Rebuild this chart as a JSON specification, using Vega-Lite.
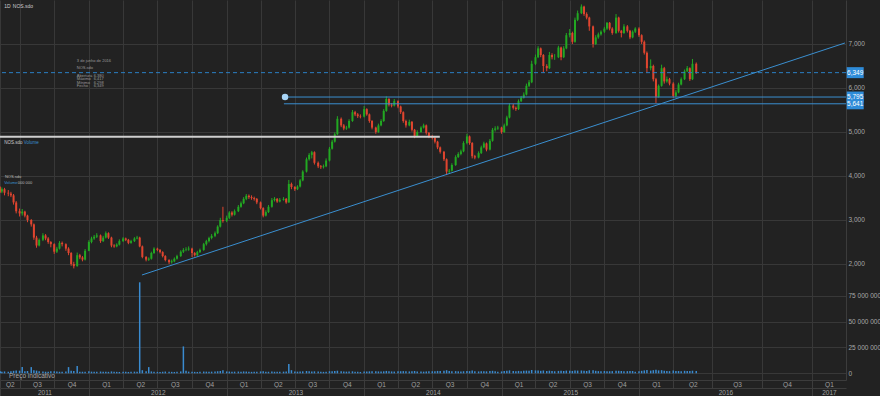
{
"$schema":"https://vega.github.io/schema/vega-lite/v6.json",
"width":846,"height":380,
"autosize":{"type":"none"},
"padding":{"left":0,"top":0,"right":34,"bottom":16},
"background":"#222222",
"config":{"view":{"stroke":null},"text":{"font":"Liberation Sans"},"axis":{"labelFont":"Liberation Sans"}},
"datasets":{
"ohlc":[
{"d":"2011-05-11","o":3700,"h":3760,"l":3620,"c":3650,"v":2},
{"d":"2011-05-15","o":3650,"h":3740,"l":3610,"c":3700,"v":1.5},
{"d":"2011-05-22","o":3700,"h":3730,"l":3560,"c":3620,"v":1.8},
{"d":"2011-06-01","o":3620,"h":3680,"l":3540,"c":3600,"v":1.6},
{"d":"2011-06-08","o":3600,"h":3640,"l":3520,"c":3560,"v":2},
{"d":"2011-06-15","o":3560,"h":3590,"l":3350,"c":3400,"v":2.4},
{"d":"2011-06-22","o":3400,"h":3430,"l":3150,"c":3200,"v":2.8},
{"d":"2011-07-01","o":3200,"h":3260,"l":3080,"c":3150,"v":2.5},
{"d":"2011-07-08","o":3150,"h":3250,"l":3100,"c":3190,"v":6.1},
{"d":"2011-07-15","o":3190,"h":3210,"l":3060,"c":3100,"v":2},
{"d":"2011-07-22","o":3100,"h":3120,"l":2950,"c":3000,"v":2.2},
{"d":"2011-08-01","o":3000,"h":3020,"l":2850,"c":2900,"v":6},
{"d":"2011-08-08","o":2900,"h":2920,"l":2550,"c":2600,"v":3},
{"d":"2011-08-15","o":2600,"h":2640,"l":2370,"c":2420,"v":2.6},
{"d":"2011-08-22","o":2420,"h":2580,"l":2400,"c":2550,"v":2},
{"d":"2011-09-01","o":2550,"h":2700,"l":2520,"c":2650,"v":1.8},
{"d":"2011-09-08","o":2650,"h":2680,"l":2540,"c":2580,"v":1.5},
{"d":"2011-09-15","o":2580,"h":2610,"l":2460,"c":2500,"v":1.6},
{"d":"2011-09-22","o":2500,"h":2520,"l":2380,"c":2450,"v":1.9},
{"d":"2011-10-01","o":2450,"h":2470,"l":2230,"c":2280,"v":2.1},
{"d":"2011-10-08","o":2280,"h":2390,"l":2250,"c":2350,"v":1.7},
{"d":"2011-10-15","o":2350,"h":2520,"l":2330,"c":2480,"v":1.5},
{"d":"2011-10-22","o":2480,"h":2510,"l":2400,"c":2450,"v":1.4},
{"d":"2011-11-01","o":2450,"h":2470,"l":2300,"c":2350,"v":1.8},
{"d":"2011-11-08","o":2350,"h":2380,"l":2200,"c":2250,"v":6},
{"d":"2011-11-15","o":2250,"h":2270,"l":1960,"c":2000,"v":2.5},
{"d":"2011-11-22","o":2000,"h":2050,"l":1900,"c":1950,"v":2.2},
{"d":"2011-12-01","o":1950,"h":2260,"l":1940,"c":2200,"v":7},
{"d":"2011-12-08","o":2200,"h":2230,"l":2110,"c":2150,"v":1.6},
{"d":"2011-12-15","o":2150,"h":2180,"l":2060,"c":2100,"v":1.5},
{"d":"2011-12-22","o":2100,"h":2340,"l":2080,"c":2300,"v":1.4},
{"d":"2012-01-01","o":2300,"h":2540,"l":2290,"c":2500,"v":1.9},
{"d":"2012-01-08","o":2500,"h":2620,"l":2470,"c":2580,"v":1.6},
{"d":"2012-01-15","o":2580,"h":2660,"l":2550,"c":2620,"v":1.5},
{"d":"2012-01-22","o":2620,"h":2700,"l":2590,"c":2650,"v":1.4},
{"d":"2012-02-01","o":2650,"h":2670,"l":2480,"c":2520,"v":1.7},
{"d":"2012-02-08","o":2520,"h":2640,"l":2500,"c":2600,"v":1.5},
{"d":"2012-02-15","o":2600,"h":2740,"l":2580,"c":2700,"v":1.6},
{"d":"2012-02-22","o":2700,"h":2720,"l":2570,"c":2600,"v":1.4},
{"d":"2012-03-01","o":2600,"h":2620,"l":2380,"c":2420,"v":1.8},
{"d":"2012-03-08","o":2420,"h":2450,"l":2370,"c":2400,"v":1.5},
{"d":"2012-03-15","o":2400,"h":2470,"l":2380,"c":2440,"v":1.4},
{"d":"2012-03-22","o":2440,"h":2560,"l":2420,"c":2520,"v":1.3},
{"d":"2012-04-01","o":2520,"h":2610,"l":2500,"c":2580,"v":1.5},
{"d":"2012-04-08","o":2580,"h":2600,"l":2520,"c":2550,"v":1.4},
{"d":"2012-04-15","o":2550,"h":2570,"l":2450,"c":2480,"v":1.3},
{"d":"2012-04-22","o":2480,"h":2550,"l":2460,"c":2520,"v":1.5},
{"d":"2012-05-01","o":2520,"h":2610,"l":2500,"c":2580,"v":1.6},
{"d":"2012-05-08","o":2580,"h":2640,"l":2560,"c":2600,"v":1.4},
{"d":"2012-05-15","o":2600,"h":2620,"l":2380,"c":2400,"v":88},
{"d":"2012-05-22","o":2400,"h":2420,"l":2130,"c":2160,"v":3},
{"d":"2012-06-01","o":2160,"h":2180,"l":2060,"c":2100,"v":2},
{"d":"2012-06-08","o":2100,"h":2150,"l":2070,"c":2120,"v":6},
{"d":"2012-06-15","o":2120,"h":2280,"l":2100,"c":2250,"v":1.8},
{"d":"2012-06-22","o":2250,"h":2380,"l":2230,"c":2350,"v":1.6},
{"d":"2012-07-01","o":2350,"h":2370,"l":2290,"c":2320,"v":1.4},
{"d":"2012-07-08","o":2320,"h":2340,"l":2240,"c":2270,"v":1.3},
{"d":"2012-07-15","o":2270,"h":2290,"l":2150,"c":2180,"v":1.5},
{"d":"2012-07-22","o":2180,"h":2200,"l":2060,"c":2090,"v":1.7},
{"d":"2012-08-01","o":2090,"h":2110,"l":2000,"c":2040,"v":1.6},
{"d":"2012-08-08","o":2040,"h":2100,"l":2010,"c":2060,"v":1.4},
{"d":"2012-08-15","o":2060,"h":2150,"l":2040,"c":2120,"v":1.3},
{"d":"2012-08-22","o":2120,"h":2210,"l":2100,"c":2180,"v":1.5},
{"d":"2012-09-01","o":2180,"h":2310,"l":2160,"c":2280,"v":1.8},
{"d":"2012-09-08","o":2280,"h":2360,"l":2250,"c":2320,"v":26},
{"d":"2012-09-15","o":2320,"h":2380,"l":2290,"c":2330,"v":2.5},
{"d":"2012-09-22","o":2330,"h":2400,"l":2300,"c":2350,"v":1.6},
{"d":"2012-10-01","o":2350,"h":2370,"l":2160,"c":2250,"v":1.5},
{"d":"2012-10-08","o":2250,"h":2270,"l":2170,"c":2200,"v":1.4},
{"d":"2012-10-15","o":2200,"h":2300,"l":2180,"c":2270,"v":1.3},
{"d":"2012-10-22","o":2270,"h":2350,"l":2250,"c":2320,"v":1.5},
{"d":"2012-11-01","o":2320,"h":2480,"l":2300,"c":2450,"v":1.7},
{"d":"2012-11-08","o":2450,"h":2550,"l":2420,"c":2520,"v":1.6},
{"d":"2012-11-15","o":2520,"h":2620,"l":2490,"c":2590,"v":1.5},
{"d":"2012-11-22","o":2590,"h":2680,"l":2560,"c":2640,"v":1.6},
{"d":"2012-12-01","o":2640,"h":2740,"l":2610,"c":2700,"v":1.8},
{"d":"2012-12-08","o":2700,"h":2880,"l":2680,"c":2850,"v":2},
{"d":"2012-12-15","o":2850,"h":3050,"l":2830,"c":3000,"v":2.2},
{"d":"2012-12-22","o":3000,"h":3300,"l":2940,"c":2980,"v":3},
{"d":"2013-01-01","o":2980,"h":3100,"l":2950,"c":3050,"v":1.8},
{"d":"2013-01-08","o":3050,"h":3200,"l":3020,"c":3170,"v":1.7},
{"d":"2013-01-15","o":3170,"h":3200,"l":3080,"c":3120,"v":1.5},
{"d":"2013-01-22","o":3120,"h":3240,"l":3100,"c":3200,"v":1.6},
{"d":"2013-02-01","o":3200,"h":3340,"l":3180,"c":3300,"v":1.7},
{"d":"2013-02-08","o":3300,"h":3420,"l":3280,"c":3380,"v":1.6},
{"d":"2013-02-15","o":3380,"h":3520,"l":3360,"c":3480,"v":1.8},
{"d":"2013-02-22","o":3480,"h":3590,"l":3450,"c":3550,"v":1.7},
{"d":"2013-03-01","o":3550,"h":3580,"l":3480,"c":3520,"v":1.5},
{"d":"2013-03-08","o":3520,"h":3560,"l":3460,"c":3500,"v":1.4},
{"d":"2013-03-15","o":3500,"h":3530,"l":3440,"c":3480,"v":1.4},
{"d":"2013-03-22","o":3480,"h":3500,"l":3360,"c":3400,"v":1.6},
{"d":"2013-04-01","o":3400,"h":3420,"l":3240,"c":3270,"v":1.8},
{"d":"2013-04-08","o":3270,"h":3290,"l":3060,"c":3100,"v":2},
{"d":"2013-04-15","o":3100,"h":3220,"l":3080,"c":3180,"v":1.6},
{"d":"2013-04-22","o":3180,"h":3340,"l":3160,"c":3300,"v":1.5},
{"d":"2013-05-01","o":3300,"h":3500,"l":3280,"c":3450,"v":1.7},
{"d":"2013-05-08","o":3450,"h":3520,"l":3420,"c":3480,"v":1.5},
{"d":"2013-05-15","o":3480,"h":3500,"l":3390,"c":3420,"v":1.4},
{"d":"2013-05-22","o":3420,"h":3500,"l":3400,"c":3460,"v":1.5},
{"d":"2013-06-01","o":3460,"h":3520,"l":3440,"c":3480,"v":1.6},
{"d":"2013-06-08","o":3480,"h":3500,"l":3370,"c":3400,"v":1.7},
{"d":"2013-06-15","o":3400,"h":3910,"l":3390,"c":3820,"v":9},
{"d":"2013-06-22","o":3820,"h":3850,"l":3700,"c":3750,"v":3},
{"d":"2013-07-01","o":3750,"h":3770,"l":3660,"c":3700,"v":1.8},
{"d":"2013-07-08","o":3700,"h":3790,"l":3680,"c":3760,"v":1.6},
{"d":"2013-07-15","o":3760,"h":3930,"l":3740,"c":3900,"v":1.7},
{"d":"2013-07-22","o":3900,"h":4130,"l":3880,"c":4100,"v":1.9},
{"d":"2013-08-01","o":4100,"h":4420,"l":4080,"c":4380,"v":2.2},
{"d":"2013-08-08","o":4380,"h":4520,"l":4350,"c":4480,"v":2},
{"d":"2013-08-15","o":4480,"h":4570,"l":4400,"c":4540,"v":1.8},
{"d":"2013-08-22","o":4540,"h":4560,"l":4260,"c":4300,"v":1.9},
{"d":"2013-09-01","o":4300,"h":4330,"l":4180,"c":4220,"v":1.7},
{"d":"2013-09-08","o":4220,"h":4250,"l":4160,"c":4200,"v":1.5},
{"d":"2013-09-15","o":4200,"h":4260,"l":4170,"c":4220,"v":1.4},
{"d":"2013-09-22","o":4220,"h":4400,"l":4200,"c":4350,"v":1.6},
{"d":"2013-10-01","o":4350,"h":4660,"l":4330,"c":4620,"v":2},
{"d":"2013-10-08","o":4620,"h":4820,"l":4600,"c":4780,"v":2.1},
{"d":"2013-10-15","o":4780,"h":4990,"l":4760,"c":4950,"v":2.2},
{"d":"2013-10-22","o":4950,"h":5360,"l":4930,"c":5300,"v":2.5},
{"d":"2013-11-01","o":5300,"h":5330,"l":5110,"c":5150,"v":2},
{"d":"2013-11-08","o":5150,"h":5180,"l":5040,"c":5080,"v":1.8},
{"d":"2013-11-15","o":5080,"h":5140,"l":5050,"c":5100,"v":1.6},
{"d":"2013-11-22","o":5100,"h":5290,"l":5080,"c":5250,"v":1.7},
{"d":"2013-12-01","o":5250,"h":5500,"l":5230,"c":5450,"v":1.9},
{"d":"2013-12-08","o":5450,"h":5480,"l":5360,"c":5400,"v":1.6},
{"d":"2013-12-15","o":5400,"h":5430,"l":5320,"c":5360,"v":1.5},
{"d":"2013-12-22","o":5360,"h":5400,"l":5310,"c":5350,"v":1.3},
{"d":"2014-01-01","o":5350,"h":5590,"l":5330,"c":5520,"v":1.8},
{"d":"2014-01-08","o":5520,"h":5540,"l":5370,"c":5400,"v":1.7},
{"d":"2014-01-15","o":5400,"h":5420,"l":5210,"c":5250,"v":1.9},
{"d":"2014-01-22","o":5250,"h":5270,"l":5060,"c":5100,"v":2},
{"d":"2014-02-01","o":5100,"h":5120,"l":4960,"c":5000,"v":2.1},
{"d":"2014-02-08","o":5000,"h":5190,"l":4980,"c":5150,"v":1.8},
{"d":"2014-02-15","o":5150,"h":5290,"l":5130,"c":5250,"v":1.7},
{"d":"2014-02-22","o":5250,"h":5520,"l":5230,"c":5480,"v":1.9},
{"d":"2014-03-01","o":5480,"h":5810,"l":5460,"c":5750,"v":2.3},
{"d":"2014-03-08","o":5750,"h":5770,"l":5580,"c":5620,"v":2},
{"d":"2014-03-15","o":5620,"h":5660,"l":5560,"c":5600,"v":1.8},
{"d":"2014-03-22","o":5600,"h":5750,"l":5580,"c":5700,"v":1.7},
{"d":"2014-04-01","o":5700,"h":5720,"l":5540,"c":5580,"v":1.9},
{"d":"2014-04-08","o":5580,"h":5600,"l":5410,"c":5450,"v":2},
{"d":"2014-04-15","o":5450,"h":5470,"l":5210,"c":5250,"v":2.1},
{"d":"2014-04-22","o":5250,"h":5280,"l":5100,"c":5150,"v":2},
{"d":"2014-05-01","o":5150,"h":5280,"l":5130,"c":5230,"v":1.8},
{"d":"2014-05-08","o":5230,"h":5250,"l":5010,"c":5050,"v":1.9},
{"d":"2014-05-15","o":5050,"h":5070,"l":4860,"c":4900,"v":2.2},
{"d":"2014-05-22","o":4900,"h":5040,"l":4880,"c":5000,"v":1.8},
{"d":"2014-06-01","o":5000,"h":5130,"l":4980,"c":5100,"v":1.7},
{"d":"2014-06-08","o":5100,"h":5190,"l":5080,"c":5150,"v":1.6},
{"d":"2014-06-15","o":5150,"h":5170,"l":4940,"c":4980,"v":1.8},
{"d":"2014-06-22","o":4980,"h":5000,"l":4860,"c":4900,"v":1.9},
{"d":"2014-07-01","o":4900,"h":4930,"l":4830,"c":4870,"v":2},
{"d":"2014-07-08","o":4870,"h":4890,"l":4740,"c":4780,"v":2.1},
{"d":"2014-07-15","o":4780,"h":4800,"l":4610,"c":4650,"v":2.3},
{"d":"2014-07-22","o":4650,"h":4670,"l":4510,"c":4550,"v":2.2},
{"d":"2014-08-01","o":4550,"h":4570,"l":4340,"c":4380,"v":2.4},
{"d":"2014-08-08","o":4380,"h":4400,"l":4020,"c":4100,"v":3},
{"d":"2014-08-15","o":4100,"h":4160,"l":4060,"c":4120,"v":2.2},
{"d":"2014-08-22","o":4120,"h":4290,"l":4100,"c":4250,"v":2},
{"d":"2014-09-01","o":4250,"h":4470,"l":4230,"c":4430,"v":2.1},
{"d":"2014-09-08","o":4430,"h":4540,"l":4410,"c":4500,"v":1.9},
{"d":"2014-09-15","o":4500,"h":4600,"l":4470,"c":4560,"v":1.8},
{"d":"2014-09-22","o":4560,"h":4790,"l":4540,"c":4750,"v":2},
{"d":"2014-10-01","o":4750,"h":4960,"l":4720,"c":4900,"v":2.2},
{"d":"2014-10-08","o":4900,"h":4920,"l":4710,"c":4750,"v":2.1},
{"d":"2014-10-15","o":4750,"h":4770,"l":4400,"c":4450,"v":2.6},
{"d":"2014-10-22","o":4450,"h":4480,"l":4380,"c":4420,"v":2},
{"d":"2014-11-01","o":4420,"h":4560,"l":4400,"c":4520,"v":1.8},
{"d":"2014-11-08","o":4520,"h":4690,"l":4500,"c":4650,"v":1.9},
{"d":"2014-11-15","o":4650,"h":4780,"l":4630,"c":4740,"v":2},
{"d":"2014-11-22","o":4740,"h":4760,"l":4560,"c":4600,"v":1.9},
{"d":"2014-12-01","o":4600,"h":4840,"l":4580,"c":4800,"v":2.2},
{"d":"2014-12-08","o":4800,"h":5090,"l":4780,"c":5050,"v":2.4},
{"d":"2014-12-15","o":5050,"h":5130,"l":5010,"c":5080,"v":2.1},
{"d":"2014-12-22","o":5080,"h":5140,"l":5050,"c":5100,"v":1.5},
{"d":"2015-01-01","o":5100,"h":5120,"l":4960,"c":5000,"v":1.8},
{"d":"2015-01-08","o":5000,"h":5190,"l":4980,"c":5150,"v":2.2},
{"d":"2015-01-15","o":5150,"h":5370,"l":5130,"c":5330,"v":2.5},
{"d":"2015-01-22","o":5330,"h":5650,"l":5310,"c":5600,"v":2.8},
{"d":"2015-02-01","o":5600,"h":5640,"l":5510,"c":5550,"v":2.2},
{"d":"2015-02-08","o":5550,"h":5580,"l":5480,"c":5520,"v":2},
{"d":"2015-02-15","o":5520,"h":5740,"l":5500,"c":5700,"v":2.3},
{"d":"2015-02-22","o":5700,"h":5820,"l":5680,"c":5780,"v":2.1},
{"d":"2015-03-01","o":5780,"h":5900,"l":5760,"c":5850,"v":2.4},
{"d":"2015-03-08","o":5850,"h":6100,"l":5830,"c":6050,"v":2.6},
{"d":"2015-03-15","o":6050,"h":6180,"l":6020,"c":6130,"v":2.5},
{"d":"2015-03-22","o":6130,"h":6620,"l":6110,"c":6550,"v":3.2},
{"d":"2015-04-01","o":6550,"h":6760,"l":6520,"c":6700,"v":2.8},
{"d":"2015-04-08","o":6700,"h":6950,"l":6680,"c":6900,"v":2.6},
{"d":"2015-04-15","o":6900,"h":6920,"l":6700,"c":6750,"v":2.4},
{"d":"2015-04-22","o":6750,"h":6770,"l":6350,"c":6500,"v":2.7},
{"d":"2015-05-01","o":6500,"h":6540,"l":6380,"c":6450,"v":2.3},
{"d":"2015-05-08","o":6450,"h":6820,"l":6430,"c":6750,"v":2.5},
{"d":"2015-05-15","o":6750,"h":6790,"l":6650,"c":6700,"v":2.2},
{"d":"2015-05-22","o":6700,"h":6770,"l":6640,"c":6700,"v":2},
{"d":"2015-06-01","o":6700,"h":6960,"l":6680,"c":6920,"v":2.3},
{"d":"2015-06-08","o":6920,"h":6940,"l":6630,"c":6700,"v":2.4},
{"d":"2015-06-15","o":6700,"h":6950,"l":6680,"c":6900,"v":2.2},
{"d":"2015-06-22","o":6900,"h":7250,"l":6880,"c":7200,"v":2.6},
{"d":"2015-07-01","o":7200,"h":7340,"l":7150,"c":7250,"v":2.5},
{"d":"2015-07-08","o":7250,"h":7280,"l":7000,"c":7050,"v":2.3},
{"d":"2015-07-15","o":7050,"h":7600,"l":7030,"c":7550,"v":2.8},
{"d":"2015-07-22","o":7550,"h":7760,"l":7520,"c":7700,"v":2.6},
{"d":"2015-08-01","o":7700,"h":7900,"l":7680,"c":7850,"v":2.7},
{"d":"2015-08-08","o":7850,"h":7870,"l":7640,"c":7680,"v":2.4},
{"d":"2015-08-15","o":7680,"h":7720,"l":7560,"c":7600,"v":2.2},
{"d":"2015-08-22","o":7600,"h":7620,"l":7300,"c":7400,"v":2.9},
{"d":"2015-09-01","o":7400,"h":7420,"l":6920,"c":7000,"v":3},
{"d":"2015-09-08","o":7000,"h":7200,"l":6980,"c":7150,"v":2.4},
{"d":"2015-09-15","o":7150,"h":7260,"l":7120,"c":7220,"v":2.1},
{"d":"2015-09-22","o":7220,"h":7310,"l":7190,"c":7280,"v":2},
{"d":"2015-10-01","o":7280,"h":7390,"l":7250,"c":7350,"v":2.2},
{"d":"2015-10-08","o":7350,"h":7500,"l":7320,"c":7480,"v":2.1},
{"d":"2015-10-15","o":7480,"h":7500,"l":7310,"c":7350,"v":2},
{"d":"2015-10-22","o":7350,"h":7380,"l":7210,"c":7250,"v":2.1},
{"d":"2015-11-01","o":7250,"h":7680,"l":7230,"c":7600,"v":2.5},
{"d":"2015-11-08","o":7600,"h":7620,"l":7260,"c":7300,"v":2.4},
{"d":"2015-11-15","o":7300,"h":7320,"l":7150,"c":7250,"v":2.2},
{"d":"2015-11-22","o":7250,"h":7450,"l":7230,"c":7400,"v":2},
{"d":"2015-12-01","o":7400,"h":7430,"l":7260,"c":7300,"v":2.1},
{"d":"2015-12-08","o":7300,"h":7320,"l":7110,"c":7150,"v":2.3},
{"d":"2015-12-15","o":7150,"h":7310,"l":7130,"c":7280,"v":2.2},
{"d":"2015-12-22","o":7280,"h":7380,"l":7250,"c":7350,"v":1.6},
{"d":"2016-01-01","o":7350,"h":7380,"l":7160,"c":7200,"v":2},
{"d":"2016-01-08","o":7200,"h":7220,"l":7000,"c":7050,"v":2.4},
{"d":"2016-01-15","o":7050,"h":7080,"l":6760,"c":6800,"v":2.8},
{"d":"2016-01-22","o":6800,"h":6830,"l":6350,"c":6450,"v":3.2},
{"d":"2016-02-01","o":6450,"h":6650,"l":6400,"c":6500,"v":2.6},
{"d":"2016-02-08","o":6500,"h":6530,"l":6150,"c":6200,"v":3},
{"d":"2016-02-15","o":6200,"h":6230,"l":5660,"c":5800,"v":3.5},
{"d":"2016-02-22","o":5800,"h":6080,"l":5780,"c":6050,"v":2.8},
{"d":"2016-03-01","o":6050,"h":6530,"l":6030,"c":6450,"v":3},
{"d":"2016-03-08","o":6450,"h":6480,"l":6100,"c":6150,"v":2.5},
{"d":"2016-03-15","o":6150,"h":6260,"l":6120,"c":6200,"v":2.2},
{"d":"2016-03-22","o":6200,"h":6230,"l":6060,"c":6100,"v":2.1},
{"d":"2016-04-01","o":6100,"h":6130,"l":5780,"c":5820,"v":2.7},
{"d":"2016-04-08","o":5820,"h":5950,"l":5790,"c":5900,"v":2.3},
{"d":"2016-04-15","o":5900,"h":6120,"l":5880,"c":6080,"v":2.2},
{"d":"2016-04-22","o":6080,"h":6240,"l":6060,"c":6200,"v":2.1},
{"d":"2016-05-01","o":6200,"h":6420,"l":6180,"c":6380,"v":2.4},
{"d":"2016-05-08","o":6380,"h":6500,"l":6360,"c":6450,"v":2.2},
{"d":"2016-05-15","o":6450,"h":6470,"l":6160,"c":6200,"v":2.3},
{"d":"2016-05-22","o":6200,"h":6660,"l":6180,"c":6550,"v":2.5},
{"d":"2016-06-01","o":6550,"h":6580,"l":6320,"c":6349,"v":2.2}
],
"one":[{}],
"levels":[{"p":5795},{"p":5641}],
"tags":[{"p":6349,"t":"6,349"},{"p":5795,"t":"5,795"},{"p":5641,"t":"5,641"}]
},
"resolve":{"scale":{"y":"independent"},"axis":{"x":"independent","y":"independent"}},
"layer":[
{
"data":{"name":"ohlc"},
"mark":{"type":"rule","strokeWidth":1},
"encoding":{
"x":{"field":"d","type":"temporal",
"scale":{"type":"utc","domainRaw":{"expr":"[utc(2011,4,10), utc(2016,5,3), utc(2017,2,5)]"},"range":[0,697,846],"nice":false,"padding":0},
"axis":{"orient":"bottom","title":null,
"values":[{"year":2011,"month":5,"date":10,"utc":true},{"year":2011,"month":7,"date":1,"utc":true},{"year":2011,"month":10,"date":1,"utc":true},{"year":2012,"month":1,"date":1,"utc":true},{"year":2012,"month":4,"date":1,"utc":true},{"year":2012,"month":7,"date":1,"utc":true},{"year":2012,"month":10,"date":1,"utc":true},{"year":2013,"month":1,"date":1,"utc":true},{"year":2013,"month":4,"date":1,"utc":true},{"year":2013,"month":7,"date":1,"utc":true},{"year":2013,"month":10,"date":1,"utc":true},{"year":2014,"month":1,"date":1,"utc":true},{"year":2014,"month":4,"date":1,"utc":true},{"year":2014,"month":7,"date":1,"utc":true},{"year":2014,"month":10,"date":1,"utc":true},{"year":2015,"month":1,"date":1,"utc":true},{"year":2015,"month":4,"date":1,"utc":true},{"year":2015,"month":7,"date":1,"utc":true},{"year":2015,"month":10,"date":1,"utc":true},{"year":2016,"month":1,"date":1,"utc":true},{"year":2016,"month":4,"date":1,"utc":true},{"year":2016,"month":7,"date":1,"utc":true},{"year":2016,"month":10,"date":1,"utc":true},{"year":2017,"month":1,"date":1,"utc":true}],
"labelExpr":"'Q' + utcquarter(datum.value)",
"grid":true,"gridColor":"#383838","gridWidth":1,
"domain":true,"domainColor":"#3c3c3c",
"ticks":true,"tickSize":8,"tickColor":"#3c3c3c",
"labelColor":"#a0a0a0","labelFontSize":6.5,"labelBaseline":"middle","labelPadding":-4,
"labelFlush":false,"labelOverlap":false,"labelBound":false,
"labelOffset":{"expr":"(max(0, scale('x', utc(utcyear(datum.value), (utcquarter(datum.value) - 1) * 3, 1))) + min(width, scale('x', utc(utcyear(datum.value), utcquarter(datum.value) * 3, 1)))) / 2 - scale('x', datum.value)"}
}},
"y":{"field":"l","type":"quantitative","scale":{"domain":[-636.4,8000],"nice":false,"zero":false,"padding":0},
"axis":{"orient":"right","title":null,"values":[2000,3000,4000,5000,6000,7000],"format":",d",
"grid":true,"gridColor":"#383838","ticks":false,"domain":true,"domainColor":"#3c3c3c",
"labelColor":"#a8a8a8","labelFontSize":6.5,"labelPadding":2,"labelBaseline":"middle","labelFlush":false}},
"y2":{"field":"h"},
"color":{"condition":{"test":"datum.c >= datum.o","value":"#22a822"},"value":"#e0452f"}
}
},
{
"data":{"name":"ohlc"},
"mark":{"type":"bar","width":1.5,"color":"#3a8bd0"},
"encoding":{
"x":{"field":"d","type":"temporal",
"scale":{"type":"utc","domainRaw":{"expr":"[utc(2011,4,10), utc(2016,5,3), utc(2017,2,5)]"},"range":[0,697,846],"nice":false,"padding":0},
"axis":{"orient":"bottom","title":null,"offset":8,
"values":[{"year":2011,"month":5,"date":10,"utc":true},{"year":2012,"month":1,"date":1,"utc":true},{"year":2013,"month":1,"date":1,"utc":true},{"year":2014,"month":1,"date":1,"utc":true},{"year":2015,"month":1,"date":1,"utc":true},{"year":2016,"month":1,"date":1,"utc":true},{"year":2017,"month":1,"date":1,"utc":true}],
"labelExpr":"'' + utcyear(datum.value)",
"grid":false,"domain":true,"domainColor":"#3c3c3c","ticks":true,"tickSize":8,"tickColor":"#3c3c3c",
"labelColor":"#a0a0a0","labelFontSize":6.5,"labelBaseline":"middle","labelPadding":-4,
"labelFlush":false,"labelOverlap":false,"labelBound":false,
"labelOffset":{"expr":"(max(0, scale('x', utc(utcyear(datum.value), 0, 1))) + min(width, scale('x', utc(utcyear(datum.value) + 1, 0, 1)))) / 2 - scale('x', datum.value)"}
}},
"y":{"field":"v","type":"quantitative","scale":{"domain":[-6.48,361],"nice":false,"zero":false,"padding":0},
"axis":{"orient":"right","title":null,"values":[0,25,50,75],
"labelExpr":"datum.value == 0 ? '0' : datum.value + ' 000 000'",
"grid":true,"gridColor":"#383838","ticks":false,"domain":false,
"labelColor":"#a8a8a8","labelFontSize":6.5,"labelPadding":2,"labelBaseline":"middle","labelFlush":false}}
}
},
{
"data":{"name":"ohlc"},
"mark":{"type":"bar","width":2},
"encoding":{
"x":{"field":"d","type":"temporal","axis":null,"scale":{"type":"utc","domainRaw":{"expr":"[utc(2011,4,10), utc(2016,5,3), utc(2017,2,5)]"},"range":[0,697,846],"nice":false,"padding":0}},
"y":{"field":"o","type":"quantitative","axis":null,"scale":{"domain":[-636.4,8000],"nice":false,"zero":false,"padding":0}},
"y2":{"field":"c"},
"color":{"condition":{"test":"datum.c >= datum.o","value":"#22a822"},"value":"#e0452f"}
}
},
{
"data":{"name":"one"},
"mark":{"type":"rule","color":"#cfcfcf","strokeWidth":2},
"encoding":{
"x":{"datum":{"year":2011,"month":5,"date":10,"utc":true},"type":"temporal","axis":null,"scale":{"type":"utc","domainRaw":{"expr":"[utc(2011,4,10), utc(2016,5,3), utc(2017,2,5)]"},"range":[0,697,846],"nice":false,"padding":0}},
"x2":{"datum":{"year":2014,"month":7,"date":21,"utc":true}},
"y":{"datum":4890,"type":"quantitative","axis":null,"scale":{"domain":[-636.4,8000],"nice":false,"zero":false,"padding":0}}
}
},
{
"data":{"name":"one"},
"mark":{"type":"rule","color":"#2b7fc4","strokeWidth":1,"strokeDash":[4,3]},
"encoding":{"y":{"datum":6349,"type":"quantitative","axis":null,"scale":{"domain":[-636.4,8000],"nice":false,"zero":false,"padding":0}}}
},
{
"data":{"name":"levels"},
"mark":{"type":"rule","color":"#3a8fd0","strokeWidth":1},
"encoding":{
"x":{"datum":{"year":2013,"month":6,"date":2,"utc":true},"type":"temporal","axis":null,"scale":{"type":"utc","domainRaw":{"expr":"[utc(2011,4,10), utc(2016,5,3), utc(2017,2,5)]"},"range":[0,697,846],"nice":false,"padding":0}},
"x2":{"datum":{"year":2017,"month":3,"date":5,"utc":true}},
"y":{"field":"p","type":"quantitative","axis":null,"scale":{"domain":[-636.4,8000],"nice":false,"zero":false,"padding":0}}
}
},
{
"data":{"name":"one"},
"mark":{"type":"rule","color":"#3a8fd0","strokeWidth":1},
"encoding":{
"x":{"datum":{"year":2012,"month":5,"date":21,"utc":true},"type":"temporal","axis":null,"scale":{"type":"utc","domainRaw":{"expr":"[utc(2011,4,10), utc(2016,5,3), utc(2017,2,5)]"},"range":[0,697,846],"nice":false,"padding":0}},
"x2":{"datum":{"year":2017,"month":3,"date":3,"utc":true}},
"y":{"datum":1750,"type":"quantitative","axis":null,"scale":{"domain":[-636.4,8000],"nice":false,"zero":false,"padding":0}},
"y2":{"datum":7023}
}
},
{
"data":{"name":"one"},
"mark":{"type":"point","filled":true,"size":42,"color":"#a8d4f5","opacity":1},
"encoding":{
"x":{"datum":{"year":2013,"month":6,"date":5,"utc":true},"type":"temporal","axis":null,"scale":{"type":"utc","domainRaw":{"expr":"[utc(2011,4,10), utc(2016,5,3), utc(2017,2,5)]"},"range":[0,697,846],"nice":false,"padding":0}},
"y":{"datum":5795,"type":"quantitative","axis":null,"scale":{"domain":[-636.4,8000],"nice":false,"zero":false,"padding":0}}
}
},
{
"data":{"name":"tags"},
"mark":{"type":"tick","orient":"vertical","thickness":17,"size":11,"color":"#2e8bd8","opacity":1},
"encoding":{
"x":{"datum":{"year":2017,"month":3,"date":22,"utc":true},"type":"temporal","axis":null,"scale":{"type":"utc","domainRaw":{"expr":"[utc(2011,4,10), utc(2016,5,3), utc(2017,2,5)]"},"range":[0,697,846],"nice":false,"padding":0}},
"y":{"field":"p","type":"quantitative","axis":null,"scale":{"domain":[-636.4,8000],"nice":false,"zero":false,"padding":0}}
}
},
{
"data":{"name":"tags"},
"mark":{"type":"text","color":"#ffffff","fontSize":6.5,"align":"center","baseline":"middle"},
"encoding":{
"x":{"datum":{"year":2017,"month":3,"date":22,"utc":true},"type":"temporal","axis":null,"scale":{"type":"utc","domainRaw":{"expr":"[utc(2011,4,10), utc(2016,5,3), utc(2017,2,5)]"},"range":[0,697,846],"nice":false,"padding":0}},
"y":{"field":"p","type":"quantitative","axis":null,"scale":{"domain":[-636.4,8000],"nice":false,"zero":false,"padding":0}},
"text":{"field":"t"}
}
},
{
"data":{"name":"one"},
"mark":{"type":"text","color":"#cccccc","fontSize":5,"align":"left","baseline":"middle","text":"1D"},
"encoding":{
"x":{"datum":{"year":2011,"month":5,"date":21,"utc":true},"type":"temporal","axis":null,"scale":{"type":"utc","domainRaw":{"expr":"[utc(2011,4,10), utc(2016,5,3), utc(2017,2,5)]"},"range":[0,697,846],"nice":false,"padding":0}},
"y":{"datum":7870,"type":"quantitative","axis":null,"scale":{"domain":[-636.4,8000],"nice":false,"zero":false,"padding":0}}
}
},
{
"data":{"name":"one"},
"mark":{"type":"text","color":"#cccccc","fontSize":5,"align":"left","baseline":"middle","text":"NOS.sdo"},
"encoding":{
"x":{"datum":{"year":2011,"month":6,"date":13,"utc":true},"type":"temporal","axis":null,"scale":{"type":"utc","domainRaw":{"expr":"[utc(2011,4,10), utc(2016,5,3), utc(2017,2,5)]"},"range":[0,697,846],"nice":false,"padding":0}},
"y":{"datum":7870,"type":"quantitative","axis":null,"scale":{"domain":[-636.4,8000],"nice":false,"zero":false,"padding":0}}
}
},
{
"data":{"name":"one"},
"mark":{"type":"text","color":"#9a9a9a","fontSize":4,"align":"left","baseline":"middle","lineHeight":7.7,"text":["3 de junho de 2016","NOS.sdo"]},
"encoding":{
"x":{"datum":{"year":2011,"month":11,"date":30,"utc":true},"type":"temporal","axis":null,"scale":{"type":"utc","domainRaw":{"expr":"[utc(2011,4,10), utc(2016,5,3), utc(2017,2,5)]"},"range":[0,697,846],"nice":false,"padding":0}},
"y":{"datum":6620,"type":"quantitative","axis":null,"scale":{"domain":[-636.4,8000],"nice":false,"zero":false,"padding":0}}
}
},
{
"data":{"name":"one"},
"mark":{"type":"text","color":"#9a9a9a","fontSize":4,"align":"left","baseline":"middle","lineHeight":3.45,"text":["Abertura","Máximo","Mínimo","Fecho"]},
"encoding":{
"x":{"datum":{"year":2011,"month":11,"date":30,"utc":true},"type":"temporal","axis":null,"scale":{"type":"utc","domainRaw":{"expr":"[utc(2011,4,10), utc(2016,5,3), utc(2017,2,5)]"},"range":[0,697,846],"nice":false,"padding":0}},
"y":{"datum":6276,"type":"quantitative","axis":null,"scale":{"domain":[-636.4,8000],"nice":false,"zero":false,"padding":0}}
}
},
{
"data":{"name":"one"},
"mark":{"type":"text","color":"#9a9a9a","fontSize":4,"align":"left","baseline":"middle","lineHeight":3.45,"text":["6,380","6,417","6,298","6,349"]},
"encoding":{
"x":{"datum":{"year":2012,"month":1,"date":14,"utc":true},"type":"temporal","axis":null,"scale":{"type":"utc","domainRaw":{"expr":"[utc(2011,4,10), utc(2016,5,3), utc(2017,2,5)]"},"range":[0,697,846],"nice":false,"padding":0}},
"y":{"datum":6276,"type":"quantitative","axis":null,"scale":{"domain":[-636.4,8000],"nice":false,"zero":false,"padding":0}}
}
},
{
"data":{"name":"one"},
"mark":{"type":"text","color":"#cccccc","fontSize":4.5,"align":"left","baseline":"middle","text":"NOS.sdo"},
"encoding":{
"x":{"datum":{"year":2011,"month":5,"date":21,"utc":true},"type":"temporal","axis":null,"scale":{"type":"utc","domainRaw":{"expr":"[utc(2011,4,10), utc(2016,5,3), utc(2017,2,5)]"},"range":[0,697,846],"nice":false,"padding":0}},
"y":{"datum":4743,"type":"quantitative","axis":null,"scale":{"domain":[-636.4,8000],"nice":false,"zero":false,"padding":0}}
}
},
{
"data":{"name":"one"},
"mark":{"type":"text","color":"#3a8fd0","fontSize":4.5,"align":"left","baseline":"middle","text":"Volume"},
"encoding":{
"x":{"datum":{"year":2011,"month":7,"date":12,"utc":true},"type":"temporal","axis":null,"scale":{"type":"utc","domainRaw":{"expr":"[utc(2011,4,10), utc(2016,5,3), utc(2017,2,5)]"},"range":[0,697,846],"nice":false,"padding":0}},
"y":{"datum":4743,"type":"quantitative","axis":null,"scale":{"domain":[-636.4,8000],"nice":false,"zero":false,"padding":0}}
}
},
{
"data":{"name":"one"},
"mark":{"type":"text","color":"#bbbbbb","fontSize":4,"align":"left","baseline":"middle","text":"NOS.sdo"},
"encoding":{
"x":{"datum":{"year":2011,"month":5,"date":23,"utc":true},"type":"temporal","axis":null,"scale":{"type":"utc","domainRaw":{"expr":"[utc(2011,4,10), utc(2016,5,3), utc(2017,2,5)]"},"range":[0,697,846],"nice":false,"padding":0}},
"y":{"datum":3977,"type":"quantitative","axis":null,"scale":{"domain":[-636.4,8000],"nice":false,"zero":false,"padding":0}}
}
},
{
"data":{"name":"one"},
"mark":{"type":"text","color":"#3a8fd0","fontSize":4,"align":"left","baseline":"middle","text":"Volume"},
"encoding":{
"x":{"datum":{"year":2011,"month":5,"date":21,"utc":true},"type":"temporal","axis":null,"scale":{"type":"utc","domainRaw":{"expr":"[utc(2011,4,10), utc(2016,5,3), utc(2017,2,5)]"},"range":[0,697,846],"nice":false,"padding":0}},
"y":{"datum":3834,"type":"quantitative","axis":null,"scale":{"domain":[-636.4,8000],"nice":false,"zero":false,"padding":0}}
}
},
{
"data":{"name":"one"},
"mark":{"type":"text","color":"#bbbbbb","fontSize":4,"align":"left","baseline":"middle","text":"000 000"},
"encoding":{
"x":{"datum":{"year":2011,"month":6,"date":26,"utc":true},"type":"temporal","axis":null,"scale":{"type":"utc","domainRaw":{"expr":"[utc(2011,4,10), utc(2016,5,3), utc(2017,2,5)]"},"range":[0,697,846],"nice":false,"padding":0}},
"y":{"datum":3834,"type":"quantitative","axis":null,"scale":{"domain":[-636.4,8000],"nice":false,"zero":false,"padding":0}}
}
},
{
"data":{"name":"one"},
"mark":{"type":"text","color":"#a8a8a8","fontSize":6.5,"align":"left","baseline":"middle","text":"Preço indicativo"},
"encoding":{
"x":{"datum":{"year":2011,"month":6,"date":3,"utc":true},"type":"temporal","axis":null,"scale":{"type":"utc","domainRaw":{"expr":"[utc(2011,4,10), utc(2016,5,3), utc(2017,2,5)]"},"range":[0,697,846],"nice":false,"padding":0}},
"y":{"datum":-539,"type":"quantitative","axis":null,"scale":{"domain":[-636.4,8000],"nice":false,"zero":false,"padding":0}}
}
}
]
}
